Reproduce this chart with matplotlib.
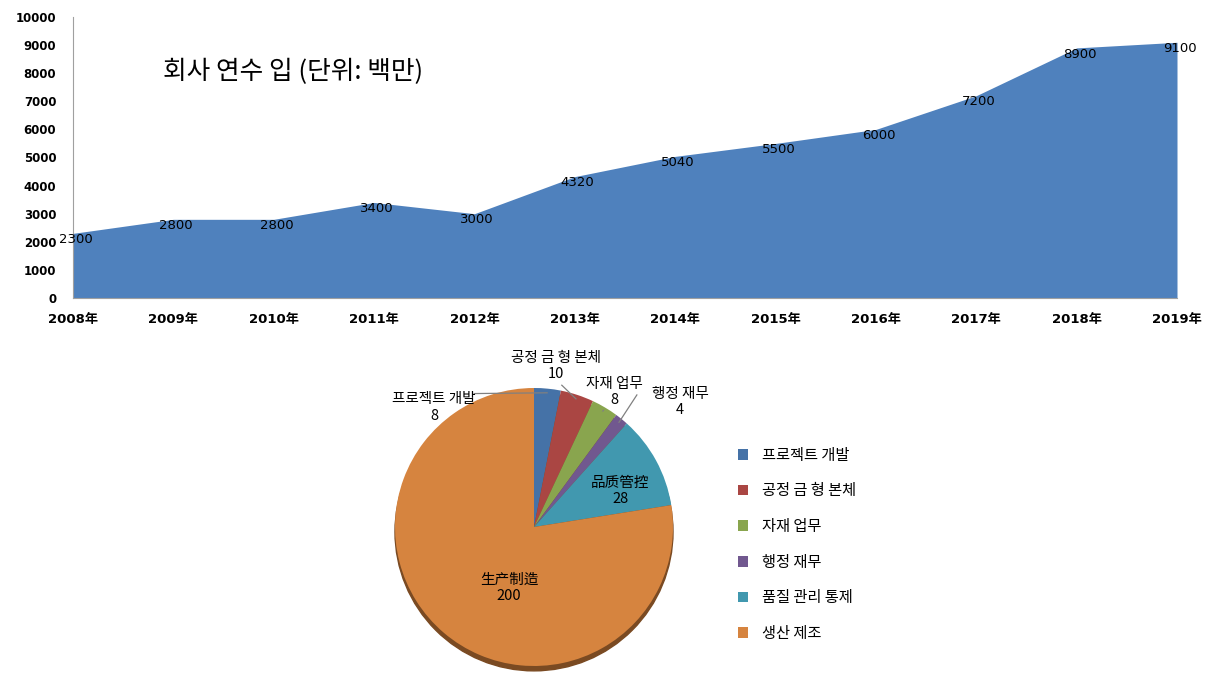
import numpy as np
import matplotlib
matplotlib.use("Agg")
import matplotlib.pyplot as plt
from matplotlib.patches import Circle, Patch

plt.rcParams["font.family"] = ["DejaVu Sans", "Noto Sans CJK KR"]

# area chart data
years = ["2008年", "2009年", "2010年", "2011年", "2012年", "2013年",
         "2014年", "2015年", "2016年", "2017年", "2018年", "2019年"]
revenue = [2300, 2800, 2800, 3400, 3000, 4320, 5040, 5500, 6000, 7200, 8900, 9100]
y_ticks = [0, 1000, 2000, 3000, 4000, 5000, 6000, 7000, 8000, 9000, 10000]
area_title = "회사 연수 입 (단위: 백만)"

# pie chart data
dept_legend = ["프로젝트 개발", "공정 금 형 본체", "자재 업무", "행정 재무", "품질 관리 통제", "생산 제조"]
dept_slice_names = ["프로젝트 개발", "공정 금 형 본체", "자재 업무", "행정 재무", "品质管控", "生产制造"]
headcount = [8, 10, 8, 4, 28, 200]
pie_colors = ["#4572A7", "#AA4643", "#89A54E", "#71588F", "#4198AF", "#D6843F"]

W, H = 1228, 679
fig = plt.figure(figsize=(W / 100, H / 100), dpi=100)

# ---- area chart
ax = fig.add_axes([73 / W, 1 - 298 / H, (1177 - 73) / W, (298 - 17) / H])
x = np.arange(len(years))
ax.fill_between(x, revenue, 0, color="#4F81BD", linewidth=0)
ax.set_xlim(0, len(years) - 1)
ax.set_ylim(0, 10000)
ax.set_yticks(y_ticks)
ax.set_yticklabels([str(v) for v in y_ticks], fontsize=8.5, fontweight="bold")
ax.set_xticks(x)
ax.set_xticklabels(years, fontsize=9.5, fontweight="bold",
                   family=["DejaVu Sans", "Noto Sans CJK SC"])
ax.tick_params(axis="y", length=0, pad=12)
ax.tick_params(axis="x", length=0, pad=11)
for s in ["top", "right"]:
    ax.spines[s].set_visible(False)
ax.spines["left"].set_color("#A0A0A0")
ax.spines["bottom"].set_color("#A0A0A0")
for i, v in enumerate(revenue):
    ax.annotate(str(v), (i, v), xytext=(2, -4.5), textcoords="offset points",
                ha="center", va="center", fontsize=9.5, color="black")
ax.text(163 / W, 1 - 72 / H, area_title, transform=fig.transFigure,
        fontsize=18.5, va="center", ha="left", family="Noto Sans CJK KR",
        fontweight="light")

# ---- pie chart
cx, cy, R = 534, 527, 139
half = 150
pax = fig.add_axes([(cx - half) / W, 1 - (cy + half) / H, 2 * half / W, 2 * half / H])
pax.axis("off")
pax.add_patch(Circle((0.0, -0.035), 1.0, color="#7A4A22", zorder=0))
wedges, _ = pax.pie(headcount, colors=pie_colors, startangle=90, counterclock=False,
                    radius=1.0, wedgeprops=dict(linewidth=0))
for w in wedges:
    w.set_zorder(1)
pax.set_aspect("equal")
pax.set_xlim(-half / R, half / R)
pax.set_ylim(-half / R, half / R)

kr = "Noto Sans CJK KR"
# outside labels with leader lines
outside = [
    (0, (-0.72, 0.86), (-0.43, 0.96)),
    (1, (0.16, 1.16), (0.20, 1.02)),
    (2, (0.58, 0.97), (0.50, 0.84)),
    (3, (1.05, 0.90), (0.74, 0.95)),
]
for idx, txy, lend in outside:
    ang = np.deg2rad((wedges[idx].theta1 + wedges[idx].theta2) / 2)
    rim = (np.cos(ang) * 0.97, np.sin(ang) * 0.97)
    pax.text(txy[0], txy[1], f"{dept_slice_names[idx]}\n{headcount[idx]}",
             ha="center", va="center", fontsize=10.5, family=kr,
             linespacing=1.2, zorder=5, clip_on=False)
    pax.plot([lend[0], rim[0]], [lend[1], rim[1]], color="#808080", lw=0.9,
             zorder=4, clip_on=False)

for idx, pos in [(4, (0.62, 0.26)), (5, (-0.18, -0.44))]:
    pax.text(pos[0], pos[1], f"{dept_slice_names[idx]}\n{headcount[idx]}",
             ha="center", va="center", fontsize=10.5, family=kr, linespacing=1.15,
             zorder=5)

handles = [Patch(facecolor=c, edgecolor="none") for c in pie_colors]
fig.legend(handles, dept_legend, loc="upper left", bbox_to_anchor=(724 / W, 1 - 433 / H),
           frameon=False, prop=dict(family=kr, size=11), labelspacing=1.22,
           handlelength=0.7, handleheight=0.7, handletextpad=0.9)

fig.savefig("out.png", dpi=100)
